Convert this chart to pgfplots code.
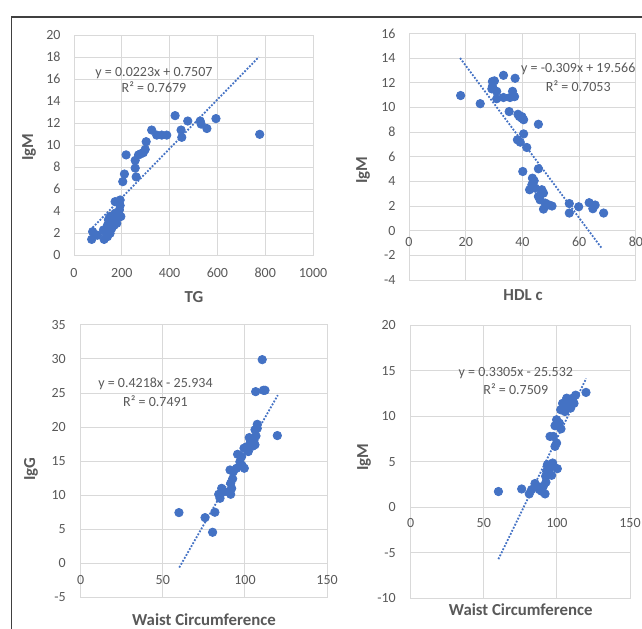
\documentclass[border=0pt]{standalone}
\usepackage{fontspec}
\setmainfont{Carlito}
\usepackage{pgfplots}
\pgfplotsset{compat=1.18}
\definecolor{mk}{HTML}{4472C4}
\definecolor{tx}{HTML}{595959}
\definecolor{gr}{HTML}{D9D9D9}
\definecolor{fr}{HTML}{404040}

\pgfplotsset{
  panel/.style={
    scale only axis, anchor=south west,
    axis line style={gr, line width=0.5pt},
    grid=major, grid style={gr, line width=0.5pt},
    major tick length=0pt,
    tick label style={font=\fontsize{7}{8}\selectfont, text=tx},
    /pgf/number format/assume math mode=true,
    /pgf/number format/1000 sep={},
    scaled ticks=false,
    yticklabel style={anchor=east},
    xticklabel style={anchor=center},
  },
  dots/.style={only marks, mark=*, mark size=2.1pt, mark options={fill=mk, draw=mk}},
  trend/.style={mk, line width=0.9pt, dash pattern=on 0.9pt off 0.8pt, no marks},
}

\begin{document}
\begin{tikzpicture}
\useasboundingbox (0,0) rectangle (321pt,314pt);

% TG vs IgM
\begin{axis}[panel, at={(37pt,186.5pt)}, width=119.5pt, height=110pt,
  xmin=0, xmax=1000, ymin=0, ymax=20,
  xtick={0,200,...,1000}, ytick={0,2,...,20},
  xticklabel style={yshift=-9pt}, yticklabel style={xshift=-3.2pt}]
\addplot[dots] coordinates {
(74,1.42) (78,2.12) (98,1.8) (123,2.27) (126,1.42) (134,1.97) (140,2.7)
(144,3.2) (151,3.5) (165,3.2) (172,3.8) (168,2.7) (186,3.6) (190,4.1)
(186,4.85) (172,4.85) (193,5.0) (140,1.67) (151,1.97) (158,2.42) (179,2.88)
(196,3.5) (193,4.5) (204,6.67) (211,7.36) (218,9.1) (256,7.9) (260,7.1)
(256,8.6) (270,9.1) (279,9.2) (290,9.3) (298,9.6) (302,10.3) (325,11.36)
(346,10.9) (367,10.9) (388,10.9) (423,12.67) (448,11.36) (451,10.7)
(476,12.18) (528,12.18) (532,11.9) (556,11.5) (594,12.4) (777,10.97)
};
\addplot[trend] coordinates {(68,2.267) (773,17.989)};
\end{axis}

% HDL c vs IgM
\begin{axis}[panel, at={(204.5pt,174pt)}, width=113.5pt, height=123.3pt,
  xmin=0, xmax=80, ymin=-4, ymax=16,
  xtick={0,20,...,80}, ytick={-4,-2,...,16},
  xticklabel style={yshift=19.15pt}, yticklabel style={xshift=-3.2pt}]
\addplot[dots] coordinates {
(18.2,10.96) (25.1,10.3) (29.4,12.1) (30.1,12.15) (29.4,11.7) (29.2,11.5)
(30.9,11.3) (30.9,10.7) (33.3,10.8) (33.3,12.6) (35.6,10.8) (36.5,11.3)
(37.4,12.36) (37.2,10.87) (35.3,9.66) (38.4,9.44) (38.9,9.26) (39.8,9.12)
(40.4,9.0) (39.8,9.25) (40.4,7.85) (38.2,7.37) (39.2,7.18) (41.5,6.75)
(45.6,8.63) (45.6,5.02) (40.1,4.8) (43.5,4.26) (44.1,4.05) (43.3,3.72)
(42.5,3.32) (44.5,3.45) (45.6,2.78) (46.8,3.32) (47.4,3.05) (46.2,2.5)
(48,2.24) (47.4,1.75) (49.2,2.1) (50.4,2.0) (56.5,2.2) (56.5,1.43)
(59.8,1.94) (63.5,2.27) (64.8,1.78) (65.6,2.08) (68.6,1.43)
};
\addplot[trend] coordinates {(18,14.004) (68,-1.446)};
\end{axis}

% Waist Circumference vs IgG
\begin{axis}[panel, at={(40.35pt,15.35pt)}, width=123.2pt, height=136.2pt,
  xmin=0, xmax=150, ymin=-5, ymax=35,
  xtick={0,50,...,150}, ytick={-5,0,...,35},
  xticklabel style={yshift=8.65pt}, yticklabel style={xshift=-3.9pt}]
\addplot[dots] coordinates {
(59.8,7.44) (75.7,6.7) (80.3,4.55) (81.7,7.49) (84,10.13) (84.8,9.54)
(85.8,11.0) (87.2,10.5) (89.9,10.5) (90.9,13.7) (91.3,10.13) (91.9,11.0)
(91.3,11.75) (92.5,12.4) (92.9,13.46) (94.9,13.95) (95.5,16.0) (96.9,14.9)
(97.97,15.66) (98.4,14.3) (99.6,13.95) (99.4,16.9) (101,17.1) (102,16.4)
(102.6,18.45) (103.4,17.8) (104.7,17.2) (105.5,18.1) (106.1,17.4)
(106.7,18.7) (106.1,19.6) (107.5,20.4) (107.5,19.8) (106.5,25.2)
(110.5,29.9) (111.2,25.4) (112.2,25.4) (119.7,18.75)
};
\addplot[trend] coordinates {(60,-0.626) (120,24.682)};
\end{axis}

% Waist Circumference vs IgM
\begin{axis}[panel, at={(205.35pt,14.85pt)}, width=109.65pt, height=136.65pt,
  xmin=0, xmax=150, ymin=-10, ymax=20,
  xtick={0,50,...,150}, ytick={-10,-5,...,20},
  xticklabel style={yshift=37.5pt}, yticklabel style={xshift=-3.9pt}]
\addplot[dots] coordinates {
(60,1.72) (75.9,2.0) (81.1,1.46) (82.7,1.93) (85,2.6) (86.6,2.3) (88,1.93)
(89.6,1.75) (90.7,2.3) (91.9,1.46) (92.5,2.74) (92.3,3.4) (93,3.94)
(93.5,4.67) (94.6,3.58) (95.3,4.3) (96.4,3.5) (97.1,4.85) (100.3,4.23)
(95.3,7.77) (97.6,7.77) (98.7,6.68) (99.8,7.04) (98.7,8.94) (99.8,9.6)
(101.7,9.23) (102.8,8.6) (102.6,10.7) (104.4,11.06) (103.9,11.4)
(105.5,10.5) (106.7,11.97) (107.1,11.06) (108.5,11.6) (109.4,10.88)
(110.8,11.97) (111.7,11.4) (112.8,12.3) (119.9,12.6)
};
\addplot[trend] coordinates {(60,-5.702) (120,14.128)};
\end{axis}

% labels, equations and frame (pixel coordinates from the top left)
\begin{scope}[x=0.5pt, y=-0.5pt, yshift=314pt,
  eq/.style={font=\fontsize{7}{8}\selectfont, text=tx},
  lab/.style={font=\fontsize{8.4}{10}\selectfont\bfseries, text=tx}]
\draw[fr, line width=0.7pt] (11.5,640) -- (11.5,17) -- (660,17);
\node[eq] at (154,73.3) {y = 0.0223x + 0.7507};
\node[eq] at (154,86.7) {R² = 0.7679};
\node[eq] at (578.3,69.3) {y = -0.309x + 19.566};
\node[eq] at (578.3,85.7) {R² = 0.7053};
\node[eq] at (155.5,384) {y = 0.4218x - 25.934};
\node[eq] at (155.5,400.7) {R² = 0.7491};
\node[eq] at (515.8,373.3) {y = 0.3305x - 25.532};
\node[eq] at (515.8,389) {R² = 0.7509};
\node[lab, rotate=90] at (29,147) {IgM};
\node[lab] at (194,297.5) {TG};
\node[lab, rotate=90] at (363,170) {IgM};
\node[lab] at (523,295) {HDL c};
\node[lab, rotate=90] at (31,469) {IgG};
\node[lab] at (204,620) {Waist Circumference};
\node[lab, rotate=90] at (364,457) {IgM};
\node[lab] at (520.8,610) {Waist Circumference};
\end{scope}
\end{tikzpicture}
\end{document}
